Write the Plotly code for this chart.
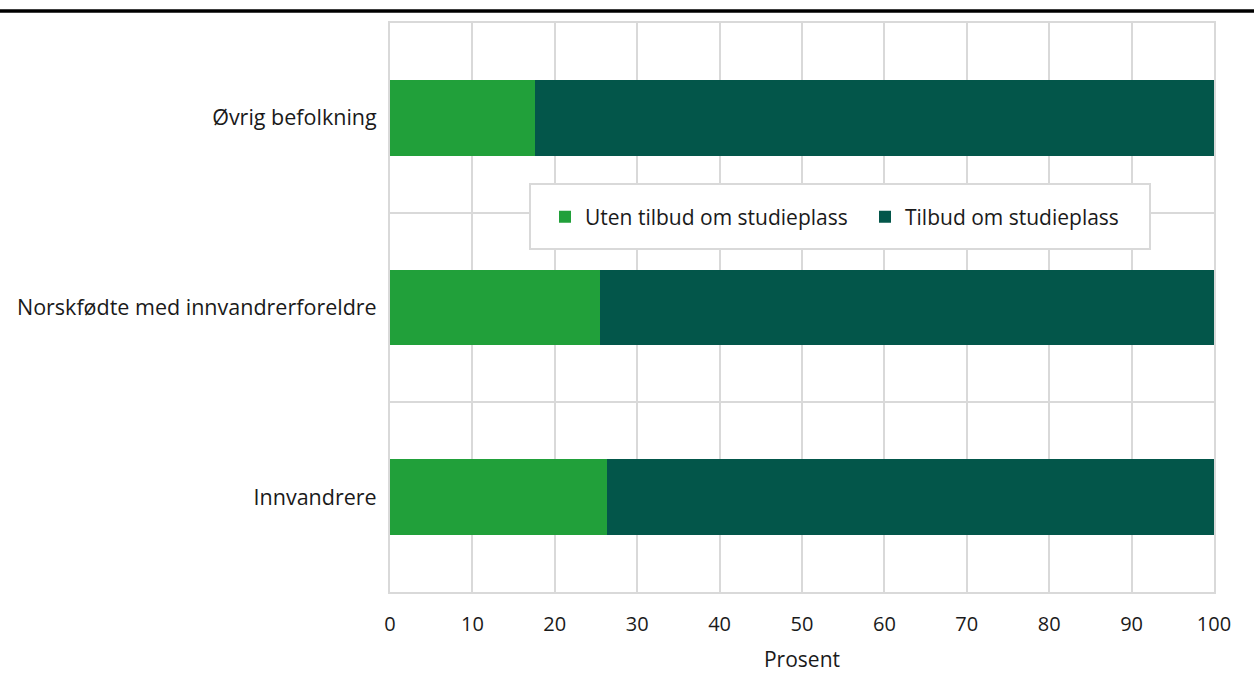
import plotly.graph_objects as go

categories = ["Innvandrere", "Norskfødte med innvandrerforeldre", "Øvrig befolkning"]
uten_tilbud = [26.3, 25.5, 17.6]
tilbud = [73.7, 74.5, 82.4]
series_names = ["Uten tilbud om studieplass", "Tilbud om studieplass"]
x_ticks = [0, 10, 20, 30, 40, 50, 60, 70, 80, 90, 100]

W, H = 1254, 674
L, R, T, B = 390, 40, 23, 82
pw, ph = W - L - R, H - T - B


def px_x(x):
    return (x - L) / pw


def px_y(y):
    return (H - B - y) / ph


fig = go.Figure()
fig.add_trace(go.Bar(y=categories, x=uten_tilbud, name=series_names[0], orientation="h",
                     marker=dict(color="#21a03a", line=dict(width=0)), width=0.4))
fig.add_trace(go.Bar(y=categories, x=tilbud, name=series_names[1], orientation="h",
                     marker=dict(color="#03564a", line=dict(width=0)), width=0.4))

fig.update_layout(
    barmode="stack",
    width=W, height=H,
    margin=dict(l=L, r=R, t=T, b=B, autoexpand=False),
    plot_bgcolor="white", paper_bgcolor="white",
    font=dict(family="Open Sans", size=21, color="#1a1a1a"),
    showlegend=True,
    legend=dict(orientation="h", x=px_x(545), y=px_y(217),
                xanchor="left", yanchor="middle",
                bgcolor="rgba(0,0,0,0)", borderwidth=0,
                font=dict(size=21), traceorder="normal",
                entrywidth=275, itemwidth=30),
    xaxis=dict(range=[0, 100], tickvals=x_ticks, showgrid=True, gridcolor="#d9d9d9",
               gridwidth=2, zeroline=False, ticks="", automargin=False,
               title=dict(text="Prosent", standoff=16, font=dict(size=21)),
               showline=True, mirror=True, linecolor="#d9d9d9", linewidth=2,
               tickfont=dict(size=20), ticklabelstandoff=13),
    yaxis=dict(type="category", categoryorder="array", categoryarray=categories,
               tickson="boundaries", showgrid=True, gridcolor="#d9d9d9", gridwidth=2,
               ticks="", showline=True, mirror=True, linecolor="#d9d9d9", linewidth=2,
               range=[-0.5, 2.5], tickfont=dict(size=21.5), automargin=False,
               ticklabelstandoff=7),
    bargap=0.6,
    shapes=[
        dict(type="line", xref="paper", yref="paper", x0=px_x(0), x1=px_x(W),
             y0=px_y(11), y1=px_y(11), line=dict(color="black", width=3.5)),
        dict(type="rect", xref="paper", yref="paper", layer="above",
             x0=px_x(530), x1=px_x(1150), y0=px_y(249), y1=px_y(184),
             fillcolor="white", line=dict(color="#d9d9d9", width=2)),
    ],
)

fig.write_html("out.html", config={"displayModeBar": False},
               post_script="document.body.style.margin='0';")
